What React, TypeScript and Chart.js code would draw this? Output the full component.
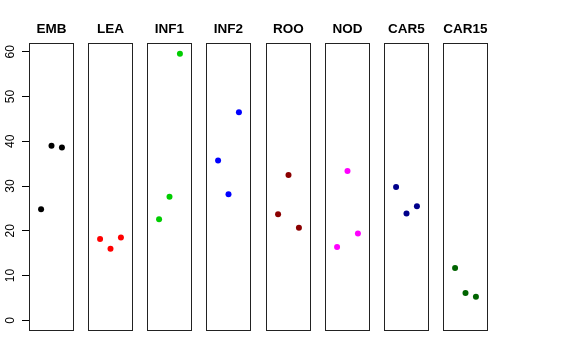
import React, { useEffect, useRef } from "react";
import { Chart, registerables } from "chart.js";

Chart.register(...registerables);

const panelNames = ["EMB", "LEA", "INF1", "INF2", "ROO", "NOD", "CAR5", "CAR15"];
const panelColors = ["#000000", "#FF0000", "#00CD00", "#0000FF", "#8B0000", "#FF00FF", "#00008B", "#006400"];

const embValues = [24.8, 39.0, 38.6];
const leaValues = [18.2, 16.0, 18.5];
const inf1Values = [22.6, 27.6, 59.6];
const inf2Values = [35.7, 28.2, 46.5];
const rooValues = [23.7, 32.5, 20.7];
const nodValues = [16.4, 33.4, 19.4];
const car5Values = [29.8, 23.9, 25.5];
const car15Values = [11.7, 6.1, 5.3];

const panelValues = [embValues, leaValues, inf1Values, inf2Values, rooValues, nodValues, car5Values, car15Values];

const yTicks = [0, 10, 20, 30, 40, 50, 60];
const yMin = -2.38;
const yMax = 61.98;
const xMin = -0.16;
const xMax = 4.16;

const FONT = "'Liberation Sans', Arial, Helvetica, sans-serif";

const boxPlugin = {
  id: "panelBox",
  afterDraw(chart: any) {
    const { ctx, chartArea } = chart;
    ctx.save();
    ctx.strokeStyle = "#222";
    ctx.lineWidth = 1;
    ctx.strokeRect(
      chartArea.left + 0.5,
      chartArea.top + 0.5,
      chartArea.right - chartArea.left - 1,
      chartArea.bottom - chartArea.top - 1
    );
    ctx.restore();
  },
};

const CANVAS_W = 103;
const CANVAS_H = 360;
const SIDE = 29;
const SPACING = 59.14;

function Panel({ index }: { index: number }) {
  const ref = useRef<HTMLCanvasElement | null>(null);
  useEffect(() => {
    if (!ref.current) return;
    const showAxis = index === 0;
    const values = panelValues[index];
    const color = panelColors[index];
    const chart = new Chart(ref.current, {
      type: "scatter",
      data: {
        datasets: [
          {
            data: values.map((v, j) => ({ x: j + 1, y: v })),
            backgroundColor: color,
            borderColor: color,
            borderWidth: 0,
            pointRadius: 3,
          },
        ],
      },
      options: {
        responsive: false,
        animation: false,
        events: [],
        layout: {
          padding: { left: showAxis ? 0 : SIDE, right: SIDE, top: 0, bottom: 29 },
        },
        plugins: {
          legend: { display: false },
          tooltip: { enabled: false },
          title: {
            display: true,
            fullSize: false,
            text: panelNames[index],
            color: "#000",
            font: { family: FONT, size: 13.5, weight: "bold", lineHeight: 1.2 },
            padding: { top: 21, bottom: 5.8 },
          },
        },
        scales: {
          x: {
            type: "linear",
            min: xMin,
            max: xMax,
            display: false,
          },
          y: {
            type: "linear",
            min: yMin,
            max: yMax,
            display: showAxis,
            afterFit: (s: any) => {
              s.width = showAxis ? SIDE : 0;
            },
            afterBuildTicks: (s: any) => {
              s.ticks = yTicks.map((v) => ({ value: v }));
            },
            grid: {
              display: true,
              drawOnChartArea: false,
              drawTicks: true,
              tickLength: 7,
              color: "#000",
              lineWidth: 1,
            },
            border: { display: false },
            ticks: {
              color: "#000",
              font: { family: FONT, size: 12 },
              padding: 5,
              minRotation: 90,
              maxRotation: 90,
              crossAlign: "center",
              callback: (v: any) => String(v),
            },
          },
        },
      },
      plugins: [boxPlugin],
    } as any);
    return () => chart.destroy();
  }, [index]);
  return (
    <canvas
      ref={ref}
      width={CANVAS_W}
      height={CANVAS_H}
      style={{
        position: "absolute",
        left: Math.round(SPACING * index),
        top: 0,
        width: CANVAS_W,
        height: CANVAS_H,
      }}
    />
  );
}

export default function App() {
  return (
    <div
      style={{
        position: "absolute",
        left: 0,
        top: 0,
        width: 576,
        height: 360,
        background: "#fff",
        overflow: "hidden",
      }}
    >
      {panelNames.map((_, i) => (
        <Panel key={i} index={i} />
      ))}
    </div>
  );
}
